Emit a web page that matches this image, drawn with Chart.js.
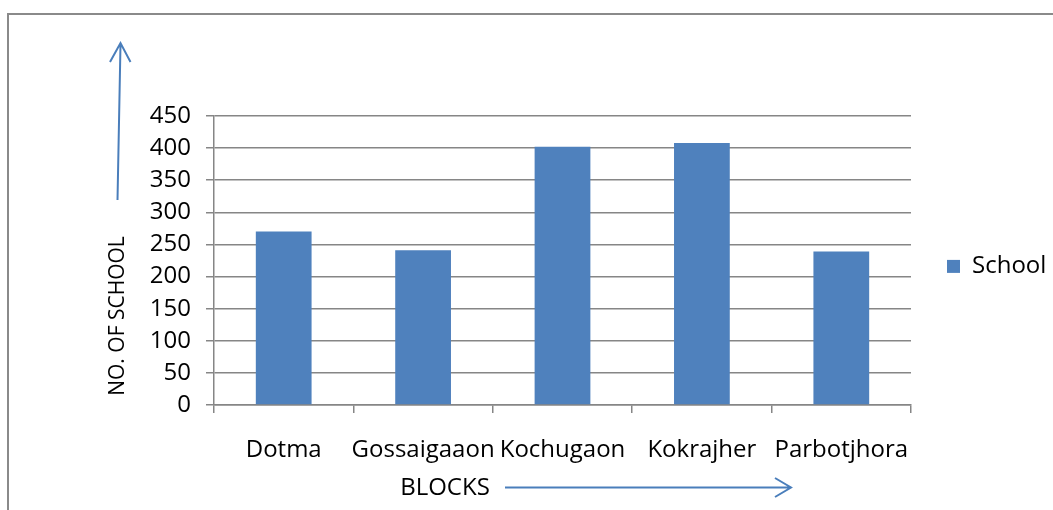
<!DOCTYPE html>
<html>
<head>
<meta charset="utf-8">
<script src="https://cdn.jsdelivr.net/npm/chart.js@4.4.1/dist/chart.umd.min.js"></script>
<style>
  html, body { margin: 0; padding: 0; background: #fff; overflow: hidden; }
  #wrap { position: relative; width: 1053px; height: 510px; }
</style>
</head>
<body>
<div id="wrap"><canvas id="grafico"></canvas></div>
<script>
// dados do gráfico
const blocos = ['Dotma', 'Gossaigaaon', 'Kochugaon', 'Kokrajher', 'Parbotjhora'];
const escolas = [270, 241, 402, 408, 239];
const nomeSerie = 'School';
const tituloY = 'NO. OF SCHOOL';
const tituloX = 'BLOCKS';

const AZUL = '#4f81bd';
const SETA = '#4a7ebb';
const CINZA = '#868686';
const FONTE = "'Open Sans', sans-serif";

// moldura, títulos e setas desenhados à mão (como no original)
const extras = {
    id: 'extras',
    afterDraw(chart) {
        const c = chart.ctx;
        c.save();
        // moldura exterior
        c.strokeStyle = '#8a8a8a';
        c.lineWidth = 2;
        c.beginPath();
        c.moveTo(8, 600);
        c.lineTo(8, 14);
        c.lineTo(1100, 14);
        c.stroke();

        // título Y rodado
        c.fillStyle = '#000';
        c.font = '21px ' + FONTE;
        c.textAlign = 'center';
        c.textBaseline = 'middle';
        c.translate(118, 316);
        c.rotate(-Math.PI / 2);
        c.fillText(tituloY, 0, 0);
        c.setTransform(1, 0, 0, 1, 0, 0);

        // seta para cima
        c.strokeStyle = SETA;
        c.lineWidth = 2;
        c.beginPath();
        c.moveTo(117.5, 200);
        c.lineTo(120.5, 44);
        c.moveTo(110, 62);
        c.lineTo(120.5, 43);
        c.lineTo(130.5, 62);
        c.stroke();

        // título X e seta para a direita
        c.font = '24px ' + FONTE;
        c.fillText(tituloX, 445, 488);
        c.beginPath();
        c.moveTo(505, 487.5);
        c.lineTo(790, 487.5);
        c.moveTo(775, 478);
        c.lineTo(791, 487.5);
        c.lineTo(775, 497);
        c.stroke();
        c.restore();
    }
};

const ctx = document.getElementById('grafico').getContext('2d');
const grafico = new Chart(ctx, {
    type: 'bar',
    data: {
        labels: blocos,
        datasets: [{
            label: nomeSerie,
            data: escolas,
            backgroundColor: AZUL,
            borderWidth: 0,
            categoryPercentage: 1,
            barPercentage: 0.4
        }]
    },
    options: {
        responsive: true,
        maintainAspectRatio: false,
        animation: false,
        layout: { padding: { top: 116, left: 0, right: 0, bottom: 0 } },
        plugins: {
            legend: {
                display: true,
                position: 'right',
                align: 'start',
                maxWidth: 142,
                // título vazio só para empurrar a legenda até ao sítio certo
                title: { display: true, text: '', padding: { top: 45, bottom: 43 } },
                labels: {
                    color: '#000',
                    font: { family: FONTE, size: 24 },
                    boxWidth: 13,
                    boxHeight: 13,
                    padding: 36
                }
            },
            tooltip: { enabled: false }
        },
        scales: {
            x: {
                grid: {
                    offset: true,
                    drawOnChartArea: false,
                    color: CINZA,
                    lineWidth: 1.5,
                    tickLength: 8
                },
                border: { color: CINZA, width: 1.5 },
                ticks: {
                    color: '#000',
                    font: { family: FONTE, size: 24 },
                    padding: 23,
                    maxRotation: 0,
                    autoSkip: false
                },
                afterFit(scale) { scale.height = 105; }
            },
            y: {
                min: 0,
                max: 450,
                ticks: {
                    stepSize: 50,
                    color: '#000',
                    font: { family: FONTE, size: 24 },
                    padding: 15
                },
                grid: { color: CINZA, lineWidth: 1.5, tickLength: 8 },
                border: { color: CINZA, width: 1.5 },
                afterFit(scale) { scale.width = 214; }
            }
        }
    },
    plugins: [extras]
});
</script>
</body>
</html>
